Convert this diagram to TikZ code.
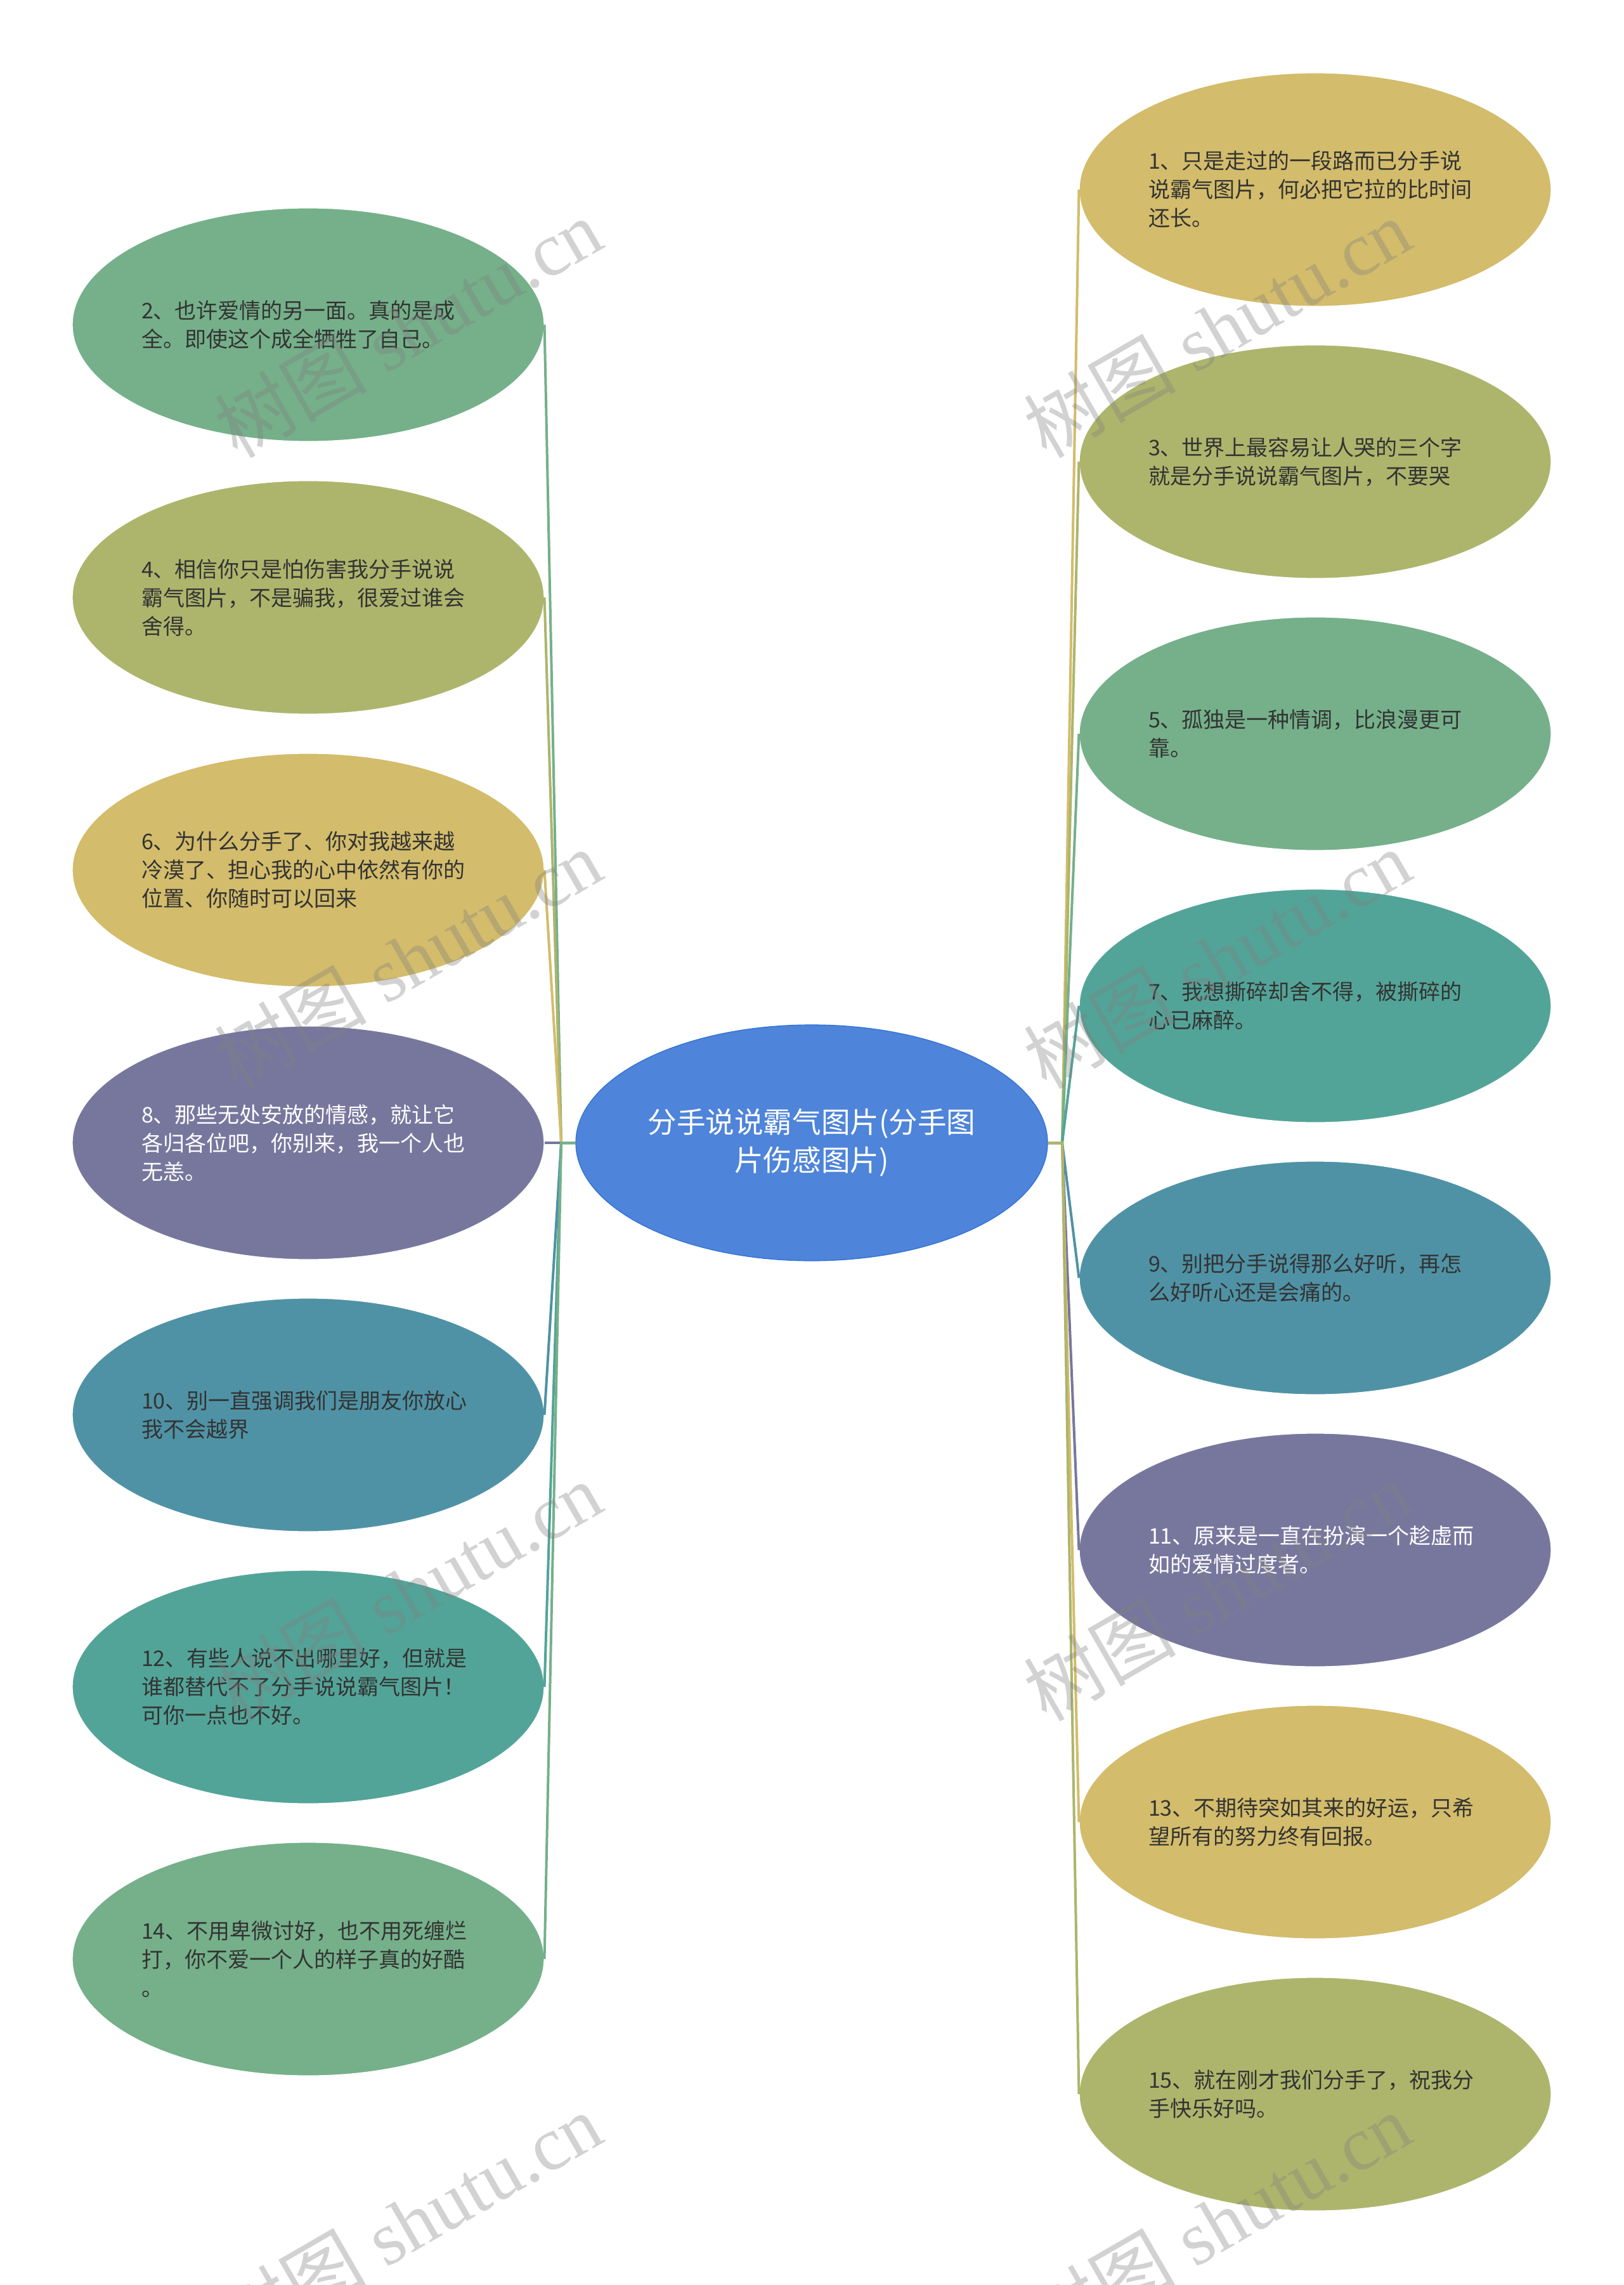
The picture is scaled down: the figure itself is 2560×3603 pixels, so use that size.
\documentclass[tikz,border=0pt]{standalone}
\usepackage{fontspec}
\setmainfont{Liberation Serif}
\newfontfamily\cjk{Noto Sans CJK SC}
\usetikzlibrary{shapes.geometric}

\definecolor{mmyellow}{HTML}{D3BC6B}
\definecolor{mmolive}{HTML}{ADB56C}
\definecolor{mmgreen}{HTML}{75B08A}
\definecolor{mmteal}{HTML}{53A498}
\definecolor{mmblue}{HTML}{4F92A5}
\definecolor{mmpurple}{HTML}{77779E}
\definecolor{mmtopic}{HTML}{4E84D9}
\definecolor{mmtopicline}{HTML}{2E6FD6}

\tikzset{
  leaf/.style={ellipse,draw=white,line width=0.3pt,minimum width=185.5pt,minimum height=92pt,
    inner sep=0pt,text width=131.5pt,align=left,text=black!80,font=\cjk\fontsize{8.5}{11.25}\selectfont},
  topicnode/.style={ellipse,fill=mmtopic,draw=mmtopicline,line width=0.3pt,minimum width=186pt,
    minimum height=93pt,inner sep=0pt,text width=130pt,align=center,text=white,
    font=\cjk\fontsize{11.4}{15}\selectfont},
  branch/.style={line width=1pt},
  wmark/.style={rotate=30,text=black!50,opacity=0.35,font=\fontsize{30}{30}\selectfont}
}

\begin{document}
\begin{tikzpicture}[x=0.25pt,y=-0.25pt]
\useasboundingbox[fill=white] (0,0) rectangle (2560,3603);
% junctions
\coordinate (jl) at (885,1802);
\coordinate (jr) at (1675,1802);
% centre
\node[topicnode] (topic) at (1280,1802) {分手说说霸气图片(分手图\\片伤感图片)};
% right column
\node[leaf,fill=mmyellow] (n1) at (2074,299) {1、只是走过的一段路而已分手说\\说霸气图片，何必把它拉的比时间\\还长。};
\node[leaf,fill=mmolive] (n3) at (2074,728) {3、世界上最容易让人哭的三个字\\就是分手说说霸气图片，不要哭};
\node[leaf,fill=mmgreen] (n5) at (2074,1157) {5、孤独是一种情调，比浪漫更可\\靠。};
\node[leaf,fill=mmteal] (n7) at (2074,1586) {7、我想撕碎却舍不得，被撕碎的\\心已麻醉。};
\node[leaf,fill=mmblue] (n9) at (2074,2015) {9、别把分手说得那么好听，再怎\\么好听心还是会痛的。};
\node[leaf,fill=mmpurple,text=white] (n11) at (2074,2444) {11、原来是一直在扮演一个趁虚而\\如的爱情过度者。};
\node[leaf,fill=mmyellow] (n13) at (2074,2873) {13、不期待突如其来的好运，只希\\望所有的努力终有回报。};
\node[leaf,fill=mmolive] (n15) at (2074,3302) {15、就在刚才我们分手了，祝我分\\手快乐好吗。};
% left column
\node[leaf,fill=mmgreen] (n2) at (486,512) {2、也许爱情的另一面。真的是成\\全。即使这个成全牺牲了自己。};
\node[leaf,fill=mmolive] (n4) at (486,942) {4、相信你只是怕伤害我分手说说\\霸气图片，不是骗我，很爱过谁会\\舍得。};
\node[leaf,fill=mmyellow] (n6) at (486,1372) {6、为什么分手了、你对我越来越\\冷漠了、担心我的心中依然有你的\\位置、你随时可以回来};
\node[leaf,fill=mmpurple,text=white] (n8) at (486,1802) {8、那些无处安放的情感，就让它\\各归各位吧，你别来，我一个人也\\无恙。};
\node[leaf,fill=mmblue] (n10) at (486,2231) {10、别一直强调我们是朋友你放心\\我不会越界};
\node[leaf,fill=mmteal] (n12) at (486,2660) {12、有些人说不出哪里好，但就是\\谁都替代不了分手说说霸气图片！\\可你一点也不好。};
\node[leaf,fill=mmgreen] (n14) at (486,3089) {14、不用卑微讨好，也不用死缠烂\\打，你不爱一个人的样子真的好酷\\。};
% right branches
\draw[branch,mmyellow] (topic.east) -- (jr) -- (n1.west);
\draw[branch,mmolive] (topic.east) -- (jr) -- (n3.west);
\draw[branch,mmgreen] (topic.east) -- (jr) -- (n5.west);
\draw[branch,mmteal] (topic.east) -- (jr) -- (n7.west);
\draw[branch,mmblue] (topic.east) -- (jr) -- (n9.west);
\draw[branch,mmpurple] (topic.east) -- (jr) -- (n11.west);
\draw[branch,mmyellow] (topic.east) -- (jr) -- (n13.west);
\draw[branch,mmolive] (topic.east) -- (jr) -- (n15.west);
% left branches
\draw[branch,mmgreen] (topic.west) -- (jl) -- (n2.east);
\draw[branch,mmolive] (topic.west) -- (jl) -- (n4.east);
\draw[branch,mmyellow] (topic.west) -- (jl) -- (n6.east);
\draw[branch,mmpurple] (topic.west) -- (jl) -- (n8.east);
\draw[branch,mmblue] (topic.west) -- (jl) -- (n10.east);
\draw[branch,mmteal] (topic.west) -- (jl) -- (n12.east);
\draw[branch,mmgreen] (topic.west) -- (jl) -- (n14.east);
% watermarks
\node[wmark] (wm1) at (643,517) {{\cjk 树图} shutu.cn};
\node[wmark] (wm2) at (1919,517) {{\cjk 树图} shutu.cn};
\node[wmark] (wm3) at (643,1512) {{\cjk 树图} shutu.cn};
\node[wmark] (wm4) at (1919,1512) {{\cjk 树图} shutu.cn};
\node[wmark] (wm5) at (643,2509) {{\cjk 树图} shutu.cn};
\node[wmark] (wm6) at (1919,2509) {{\cjk 树图} shutu.cn};
\node[wmark] (wm7) at (643,3504) {{\cjk 树图} shutu.cn};
\node[wmark] (wm8) at (1919,3504) {{\cjk 树图} shutu.cn};
\end{tikzpicture}
\end{document}
